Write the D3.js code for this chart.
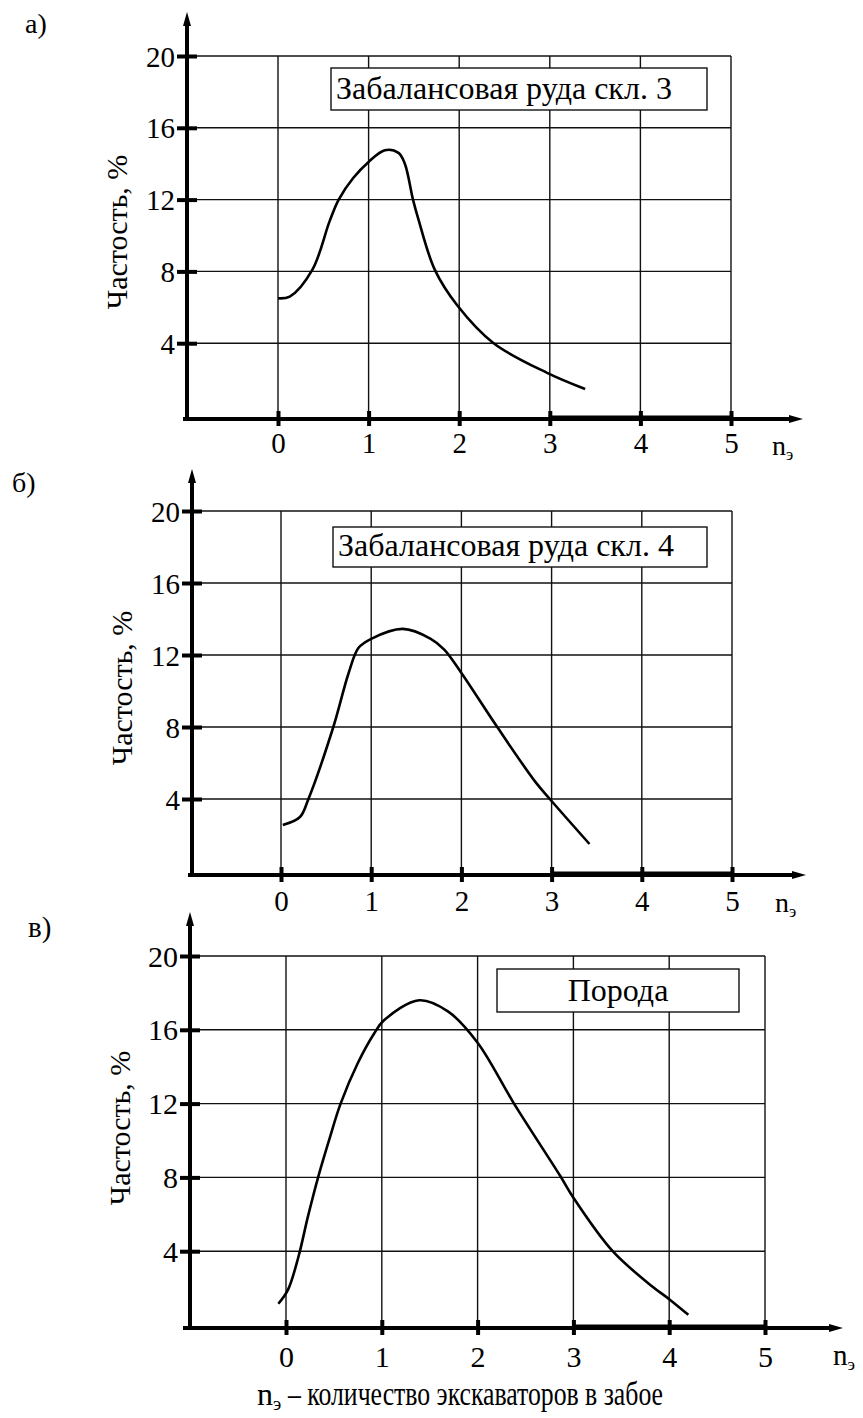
<!DOCTYPE html>
<html lang="ru">
<head>
<meta charset="UTF-8">
<title>Частость</title>
<script src="https://d3js.org/d3.v7.min.js"></script>
<style>
  body { margin: 0; background: #fff; }
  svg text { font-family: "Liberation Serif", "Times New Roman", serif; fill: #000; }
</style>
</head>
<body>
<svg id="chart" width="863" height="1418"></svg>
<script>
// ticks shared by all three panels
const xTicks = [0, 1, 2, 3, 4, 5];
const yTicks = [4, 8, 12, 16, 20];
const panelLabels = ["а)", "б)", "в)"];
const legendTexts = ["Забалансовая руда скл. 3", "Забалансовая руда скл. 4", "Порода"];
const yTitle = "Частость, %";
const caption = "– количество экскаваторов в забое";

// curve a) - забалансовая руда скл. 3
const nA = [0, 0.13, 0.38, 0.57, 0.67, 0.83, 1.0, 1.18, 1.33, 1.4, 1.49, 1.55, 1.73, 1.98, 2.38, 2.97, 3.39];
const fA = [6.5, 6.6, 8.1, 10.8, 12.0, 13.2, 14.1, 14.75, 14.6, 14.0, 12.0, 10.9, 8.1, 6.1, 4.0, 2.35, 1.45];

// curve б) - забалансовая руда скл. 4
const nB = [0.02, 0.21, 0.3, 0.58, 0.75, 0.86, 1.0, 1.35, 1.66, 1.81, 2.0, 2.39, 2.82, 2.98, 3.42];
const fB = [2.55, 3.0, 3.95, 8.0, 11.0, 12.4, 12.9, 13.45, 12.9, 12.3, 11.0, 8.05, 4.95, 4.0, 1.5];

// curve в) - порода
const nC = [-0.08, 0.02, 0.13, 0.23, 0.34, 0.46, 0.57, 0.75, 0.92, 1.02, 1.39, 1.69, 2.0, 2.38, 2.86, 3.0, 3.41, 3.83, 4.0, 4.2];
const fC = [1.15, 1.9, 3.7, 5.9, 8.1, 10.2, 12.0, 14.2, 15.8, 16.5, 17.6, 17.0, 15.3, 12.0, 8.1, 6.9, 4.0, 2.06, 1.4, 0.55];

const svg = d3.select("#chart");

// layout of each panel (pixels)
const panels = [
  { n: nA, f: fA, axisX: 187, x0: 278, x5: 731, y0: 415, y20: 56, axisY: 419, top: 12,
    axisStart: 183, axisEnd: 803, lab: [25, 33], legend: [331, 68, 707, 110], legendAnchor: "start",
    tickBase: 34, nLab: [772, 455], font: 28, titleY: 232 },
  { n: nB, f: fB, axisX: 192, x0: 281, x5: 732, y0: 871, y20: 511, axisY: 875, top: 469,
    axisStart: 188, axisEnd: 806, lab: [12, 492], legend: [333, 527, 707, 567], legendAnchor: "start",
    tickBase: 36, nLab: [775, 912], font: 28, titleY: 688 },
  { n: nC, f: fC, axisX: 190, x0: 286, x5: 765, y0: 1325, y20: 956, axisY: 1328, top: 912,
    axisStart: 183, axisEnd: 843, lab: [28, 937], legend: [497, 969, 739, 1012], legendAnchor: "middle",
    tickBase: 39, nLab: [833, 1365], font: 29, titleY: 1128 }
];

function nLabel(g, x, y, size) {
  const t = g.append("text").attr("x", x).attr("y", y).style("font-size", size + "px");
  t.append("tspan").text("n");
  t.append("tspan").attr("dy", 5).style("font-size", (size * 0.6) + "px").text("э");
  return t;
}

panels.forEach((p, i) => {
  const g = svg.append("g");
  const x = d3.scaleLinear().domain([0, 5]).range([p.x0, p.x5]);
  const y = d3.scaleLinear().domain([0, 20]).range([p.y0, p.y20]);

  // grid
  g.selectAll(".vgrid").data(xTicks).join("line")
    .attr("x1", d => x(d)).attr("x2", d => x(d))
    .attr("y1", y(20)).attr("y2", p.axisY)
    .attr("stroke", "#111").attr("stroke-width", 1.4);
  g.selectAll(".hgrid").data(yTicks).join("line")
    .attr("x1", p.axisX).attr("x2", x(5))
    .attr("y1", d => y(d)).attr("y2", d => y(d))
    .attr("stroke", "#111").attr("stroke-width", 1.4);

  // legend box
  const [lx1, ly1, lx2, ly2] = p.legend;
  g.append("rect").attr("x", lx1).attr("y", ly1).attr("width", lx2 - lx1).attr("height", ly2 - ly1)
    .attr("fill", "#fff").attr("stroke", "#111").attr("stroke-width", 1.4);
  g.append("text")
    .attr("x", p.legendAnchor === "middle" ? (lx1 + lx2) / 2 : lx1 + 5)
    .attr("y", ly2 - 11)
    .attr("text-anchor", p.legendAnchor)
    .style("font-size", "32px")
    .text(legendTexts[i]);

  // curve
  const pts = p.n.map((v, k) => [v, p.f[k]]);
  g.append("path").datum(pts)
    .attr("fill", "none").attr("stroke", "#000").attr("stroke-width", 2.6)
    .attr("d", d3.line().x(d => x(d[0])).y(d => y(d[1])).curve(d3.curveCatmullRom.alpha(0.5)));

  // y axis with arrow
  g.append("line").attr("x1", p.axisX).attr("x2", p.axisX)
    .attr("y1", p.top + 8).attr("y2", p.axisY + 2)
    .attr("stroke", "#000").attr("stroke-width", 4);
  g.append("path")
    .attr("d", `M${p.axisX},${p.top} L${p.axisX - 4},${p.top + 14} L${p.axisX + 4},${p.top + 14} Z`)
    .attr("fill", "#000");

  const yAxis = g.append("g").attr("transform", `translate(${p.axisX},0)`)
    .call(d3.axisLeft(y).tickValues(yTicks).tickFormat(d3.format("d"))
      .tickSizeInner(10).tickSizeOuter(0).tickPadding(2));
  yAxis.select(".domain").remove();
  yAxis.selectAll(".tick line").attr("x1", -10).attr("x2", 10)
    .attr("stroke", "#000").attr("stroke-width", 4);
  yAxis.selectAll(".tick text")
    .attr("dy", null).attr("y", 10)
    .style("font-size", (p.font + 1) + "px");

  // x axis with arrow
  g.append("line").attr("x1", p.axisStart).attr("x2", p.axisEnd - 10)
    .attr("y1", p.axisY).attr("y2", p.axisY)
    .attr("stroke", "#000").attr("stroke-width", 4);
  g.append("line").attr("x1", x(3)).attr("x2", x(5))
    .attr("y1", p.axisY - 1).attr("y2", p.axisY - 1)
    .attr("stroke", "#000").attr("stroke-width", 5);
  g.append("path")
    .attr("d", `M${p.axisEnd},${p.axisY} L${p.axisEnd - 14},${p.axisY - 4} L${p.axisEnd - 14},${p.axisY + 4} Z`)
    .attr("fill", "#000");

  const xAxis = g.append("g").attr("transform", `translate(0,${p.axisY})`)
    .call(d3.axisBottom(x).tickValues(xTicks).tickFormat(d3.format("d"))
      .tickSizeInner(8).tickSizeOuter(0));
  xAxis.select(".domain").remove();
  xAxis.selectAll(".tick line").attr("y1", -8).attr("y2", 7)
    .attr("stroke", "#000").attr("stroke-width", 4);
  xAxis.selectAll(".tick text")
    .attr("dy", null).attr("y", p.tickBase)
    .style("font-size", (p.font + 1) + "px");

  nLabel(g, p.nLab[0], p.nLab[1], p.font);

  // y title
  g.append("text")
    .attr("transform", `translate(${p.axisX - 60},${p.titleY}) rotate(-90)`)
    .attr("text-anchor", "middle")
    .style("font-size", "30px")
    .text(yTitle);

  // panel letter
  g.append("text").attr("x", p.lab[0]).attr("y", p.lab[1])
    .style("font-size", p.font + "px").text(panelLabels[i]);
});

// caption: symbol, then condensed description
nLabel(svg, 257, 1405, 32);
svg.append("text").attr("x", 288).attr("y", 1405)
  .attr("textLength", 375).attr("lengthAdjust", "spacingAndGlyphs")
  .style("font-size", "33px")
  .text(caption);
</script>
</body>
</html>
